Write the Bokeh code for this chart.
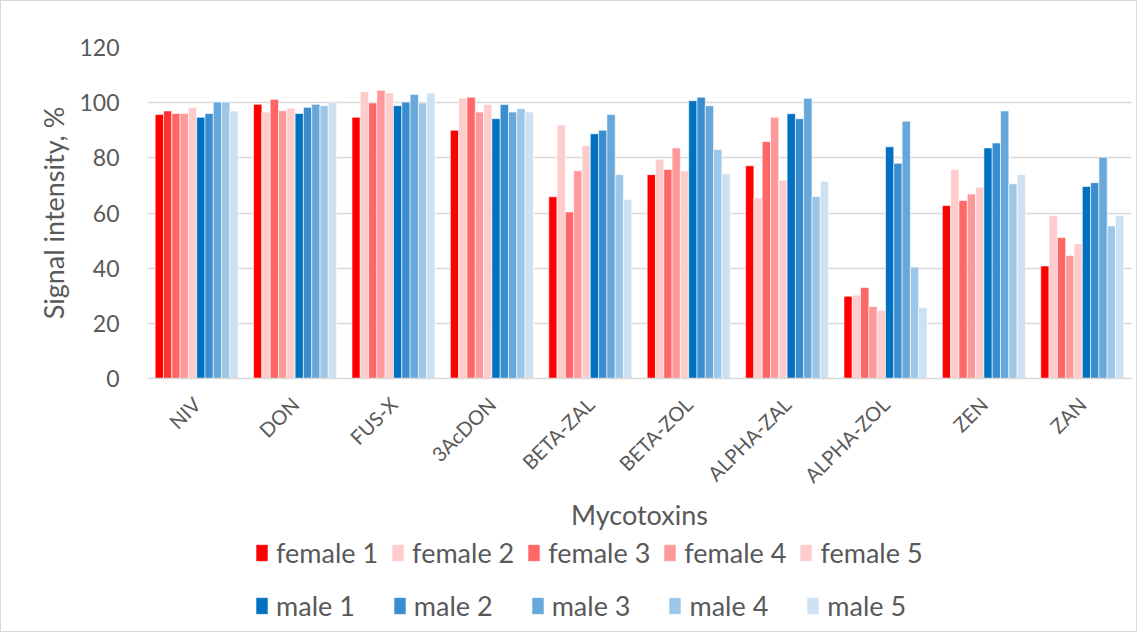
from bokeh.plotting import figure
from bokeh.layouts import column
from bokeh.models import ColumnDataSource, Legend, LegendItem, FixedTicker, Range1d
from bokeh.embed import file_html
from bokeh.resources import INLINE
import math

categories = ["NIV", "DON", "FUS-X", "3AcDON", "BETA-ZAL", "BETA-ZOL",
              "ALPHA-ZAL", "ALPHA-ZOL", "ZEN", "ZAN"]

female_1 = [95.7, 99.4, 94.7, 90.0, 65.9, 73.9, 77.1, 29.8, 62.7, 40.8]
female_2 = [97.0, 96.6, 104.0, 101.6, 91.9, 79.4, 65.5, 30.2, 75.8, 59.0]
female_3 = [96.1, 101.2, 99.9, 102.0, 60.4, 75.8, 85.9, 33.0, 64.5, 51.1]
female_4 = [96.1, 97.1, 104.5, 96.6, 75.3, 83.6, 94.7, 26.1, 66.9, 44.6]
female_5 = [98.3, 98.0, 103.5, 99.3, 84.5, 75.2, 71.9, 24.7, 69.3, 48.8]
male_1 = [94.7, 96.1, 98.9, 94.2, 88.7, 100.7, 96.0, 84.0, 83.6, 69.6]
male_2 = [96.1, 98.3, 100.2, 99.3, 90.0, 102.0, 94.2, 78.0, 85.4, 71.0]
male_3 = [100.2, 99.4, 103.0, 96.6, 95.7, 98.9, 101.6, 93.3, 97.0, 80.2]
male_4 = [100.2, 98.9, 99.9, 97.8, 73.9, 83.0, 66.0, 40.4, 70.6, 55.3]
male_5 = [97.0, 100.2, 103.5, 96.6, 64.9, 74.2, 71.4, 25.7, 73.9, 59.0]

series_names = ["female 1", "female 2", "female 3", "female 4", "female 5",
                "male 1", "male 2", "male 3", "male 4", "male 5"]
series_values = [female_1, female_2, female_3, female_4, female_5,
                 male_1, male_2, male_3, male_4, male_5]
series_colors = ["#FF0000", "#FFCCCC", "#FF6666", "#FF9999", "#FFCCCC",
                 "#0070C0", "#3A8DCF", "#67A7DA", "#9DC7E8", "#CDE1F3"]
# the NIV bar of female 2 is drawn in a stronger red in the original
female_2_niv_color = "#FF3333"

y_ticks = [0, 20, 40, 60, 80, 100, 120]

TEXT = "#595959"
FONT = "Lato"
W = 1135

p = figure(width=W, height=533, output_backend="svg", toolbar_location=None,
           x_range=Range1d(0, len(categories)), y_range=Range1d(0, 120),
           min_border_left=146, min_border_right=5, min_border_top=46,
           min_border_bottom=155)
p.outline_line_color = None
p.background_fill_color = "white"
p.border_fill_color = "white"

slot = 0.0844
for j, (name, vals, col) in enumerate(zip(series_names, series_values, series_colors)):
    colors = [col] * len(vals)
    if name == "female 2":
        colors[0] = female_2_niv_color
    src = ColumnDataSource(dict(
        x=[i + 0.5 + (j - 4.5) * slot for i in range(len(categories))],
        top=vals, color=colors))
    p.vbar(x="x", top="top", width=slot, bottom=0, source=src,
           fill_color="color", line_color="white", line_width=1, line_alpha=0.6)

# y axis
p.yaxis.ticker = FixedTicker(ticks=y_ticks)
p.yaxis.axis_line_color = None
p.yaxis.major_tick_line_color = None
p.yaxis.minor_tick_line_color = None
p.yaxis.major_label_standoff = 22
p.yaxis.major_label_text_font = FONT
p.yaxis.major_label_text_font_size = "23px"
p.yaxis.major_label_text_color = TEXT
p.yaxis.axis_label = "Signal intensity, %"
p.yaxis.axis_label_text_font = FONT
p.yaxis.axis_label_text_font_size = "27px"
p.yaxis.axis_label_text_font_style = "normal"
p.yaxis.axis_label_text_color = TEXT
p.yaxis.axis_label_standoff = 6

p.ygrid.ticker = FixedTicker(ticks=y_ticks)
p.ygrid.grid_line_color = "#D9D9D9"
p.ygrid.grid_line_width = 1.5
p.xgrid.grid_line_color = None

# x axis
p.xaxis.ticker = FixedTicker(ticks=[i + 0.5 for i in range(len(categories))])
p.xaxis.major_label_overrides = {i + 0.5: c for i, c in enumerate(categories)}
p.xaxis.major_label_orientation = math.pi / 4
p.xaxis.axis_line_color = "#D9D9D9"
p.xaxis.axis_line_width = 1.5
p.xaxis.major_tick_line_color = None
p.xaxis.minor_tick_line_color = None
p.xaxis.major_label_standoff = 16
p.xaxis.major_label_text_font = FONT
p.xaxis.major_label_text_font_size = "20px"
p.xaxis.major_label_text_color = TEXT
p.xaxis.axis_label = "Mycotoxins"
p.xaxis.axis_label_text_font = FONT
p.xaxis.axis_label_text_font_size = "27px"
p.xaxis.axis_label_text_font_style = "normal"
p.xaxis.axis_label_text_color = TEXT
p.xaxis.axis_label_standoff = 0

# legend, drawn in its own strip below the chart
lg = figure(width=W, height=97, output_backend="svg", toolbar_location=None,
            x_range=Range1d(0, 1), y_range=Range1d(0, 1),
            x_axis_location=None, y_axis_location=None,
            min_border=0, min_border_left=0, min_border_right=0,
            min_border_top=0, min_border_bottom=0)
lg.outline_line_color = None
lg.grid.visible = False
lg.border_fill_color = "white"

legend_renderers = []
for name, col in zip(series_names, series_colors):
    # zero-height bar, only used as the legend swatch
    src = ColumnDataSource(dict(x=[0.5], top=[0.0]))
    legend_renderers.append(lg.vbar(x="x", top="top", bottom=0, width=0.01, source=src,
                                    fill_color=col, line_color="white", line_alpha=0.6))

def make_legend(items, loc, spacing):
    return Legend(items=items, location=loc, orientation="horizontal",
                  spacing=spacing, padding=0, margin=0,
                  glyph_width=15, glyph_height=21, label_standoff=7,
                  label_text_font=FONT, label_text_font_size="27px",
                  label_text_color=TEXT, label_height=21,
                  border_line_color=None, background_fill_alpha=0)

items_f = [LegendItem(label=series_names[j], renderers=[legend_renderers[j]]) for j in range(5)]
items_m = [LegendItem(label=series_names[j], renderers=[legend_renderers[j]]) for j in range(5, 10)]
lg.add_layout(make_legend(items_f, (107, 62), 12))
lg.add_layout(make_legend(items_m, (107, 9), 37))

layout = column(p, lg, spacing=0)
layout.styles = {"border": "1px solid #D9D9D9"}

open("out.html", "w").write(file_html(layout, INLINE))
